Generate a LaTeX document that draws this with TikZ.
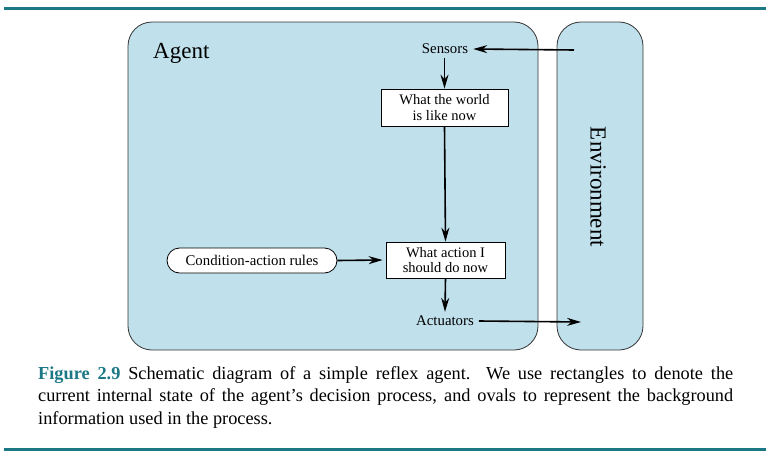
\documentclass[tikz,border=0pt]{standalone}
\usepackage{fontspec}
\setmainfont{Liberation Serif}
\usetikzlibrary{arrows.meta,positioning}
\definecolor{teal}{RGB}{27,120,132}
\definecolor{boxblue}{RGB}{192,224,236}
\begin{document}
\begin{tikzpicture}[x=1pt,y=-1pt,
  region/.style={draw=black!80,line width=0.8pt,fill=boxblue,rounded corners=24pt},
  statebox/.style={draw,line width=0.8pt,fill=white,align=center,font=\fontsize{14.5}{15.5}\selectfont,inner sep=0pt},
  oval/.style={draw,line width=0.8pt,fill=white,rounded corners=12.5pt,font=\fontsize{14.8}{15}\selectfont,inner sep=0pt},
  lbl/.style={font=\fontsize{14.8}{15}\selectfont,inner sep=5pt},
  arr/.style={line width=1.6pt,-{Stealth[length=14pt,width=8pt]}},
  rule/.style={draw=teal,line width=3pt}
]
\useasboundingbox (0,0) rectangle (772,458);
\path[rule] (4,8) -- (766,8);
\path[rule] (4,449) -- (766,449);
\node[region,minimum width=410pt,minimum height=328pt] (agent) at (333,186) {};
\node[region,minimum width=86pt,minimum height=328pt] (env) at (600,186) {};
\node[font=\fontsize{23}{23}\selectfont,anchor=west,inner sep=0pt] (agentlbl) at (153,53) {Agent};
\node[font=\fontsize{23}{23}\selectfont,rotate=-90] (envlbl) at (598,187) {Environment};
\node[lbl] (sensors) at (445,49) {Sensors};
\node[statebox,minimum width=127pt,minimum height=37pt] (world) at (444.5,107.5) {What the world\\is like now};
\node[statebox,minimum width=119pt,minimum height=36pt] (action) at (445.5,260) {What action I\\should do now};
\node[oval,minimum width=170pt,minimum height=25pt] (rules) at (252,260.5) {Condition-action rules};
\node[lbl] (actuators) at (445,321) {Actuators};
\coordinate (envin) at (574,50);
\coordinate (envout) at (581,322);
\draw[arr] (envin) -- (sensors.east);
\draw[arr] (sensors.south -| world.north) ++(0,-1) -- (world.north);
\draw[arr] (world.south) -- (action.north);
\draw[arr] (rules.east) -- ([xshift=-3pt]action.west);
\draw[arr] (action.south) -- ([yshift=-1pt]actuators.north);
\draw[arr] (actuators.east) -- (envout);
\node[anchor=north west,text width=695pt,align=justify,inner sep=0pt,font=\fontsize{18.3}{22.5}\selectfont] (caption) at (38,366) {\textcolor{teal}{\textbf{Figure 2.9}} Schematic diagram of a simple reflex agent.\ \ We use rectangles to denote the\linebreak current internal state of the agent’s decision process, and ovals to represent the background\linebreak information used in the process.};
\end{tikzpicture}
\end{document}
